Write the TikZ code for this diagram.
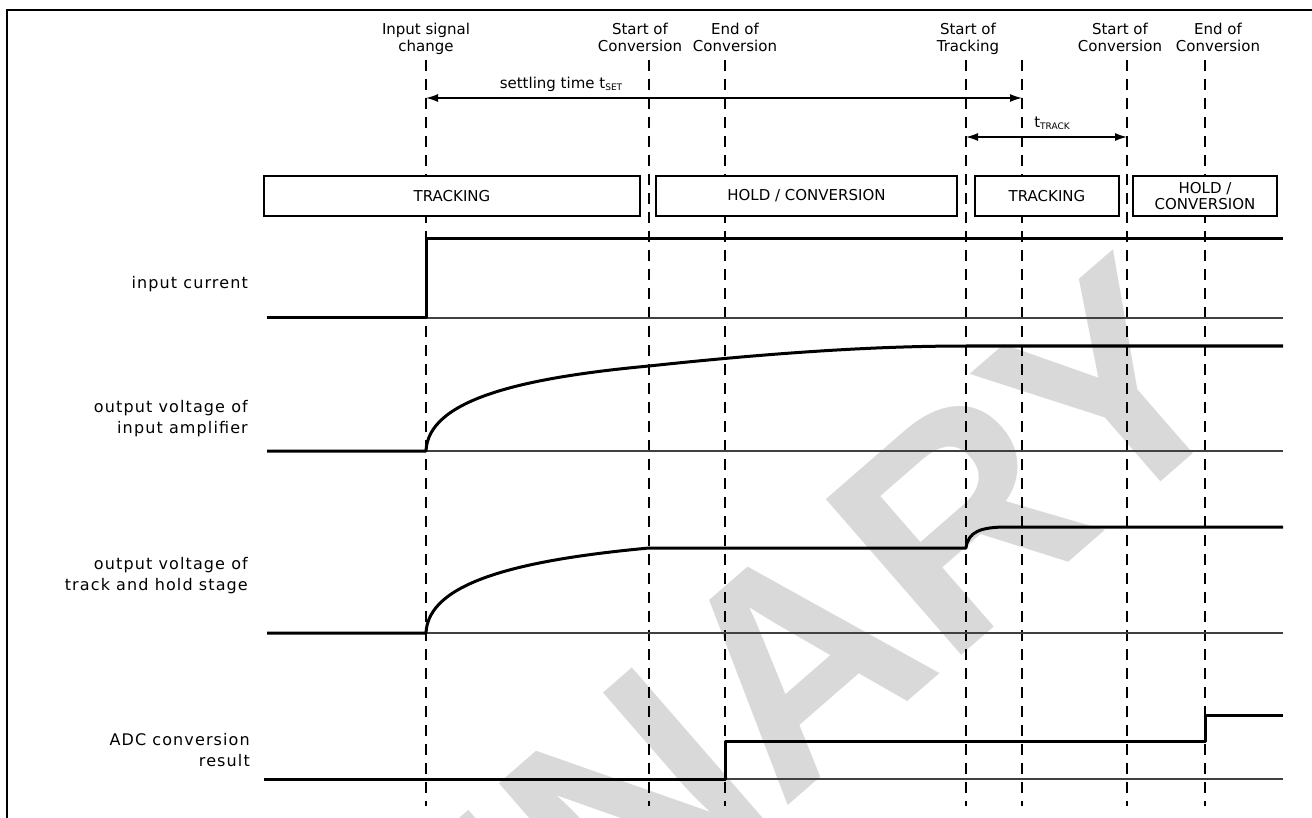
\documentclass[tikz,border=0pt]{standalone}
\usepackage{fontspec}
\setmainfont{DejaVu Sans}
\newfontfamily\lblfont[LetterSpace=7]{DejaVu Sans}
\newfontfamily\wmfont{Liberation Sans}
\usetikzlibrary{arrows.meta, positioning}

\newcommand{\sub}[1]{\raisebox{-2pt}{\fontsize{9}{9}\selectfont #1}}

\begin{document}
\begin{tikzpicture}[x=1pt, y=-1pt,
  event/.style={line width=1.7pt, dash pattern=on 11pt off 8pt},
  phase/.style={draw, fill=white, line width=1.3pt, minimum height=40pt, inner sep=0pt, align=center, font=\fontsize{15}{16}\selectfont},
  sig/.style={line width=3pt, line join=round},
  zero/.style={line width=1.4pt, black!75},
  dim/.style={{Latex[length=12pt,width=8pt]}-{Latex[length=12pt,width=8pt]}, line width=1.3pt},
  evlabel/.style={align=center, anchor=base, inner sep=0pt, font=\fontsize{15}{17}\selectfont},
  siglabel/.style={align=right, anchor=base east, inner sep=0pt, font=\lblfont\fontsize{16}{21}\selectfont}]

\useasboundingbox (0,0) rectangle (1312,818);

% watermark
\begin{scope}
  \clip (0,0) rectangle (1312,818);
  \node[text=black!15, font=\wmfont\bfseries\fontsize{300}{300}\selectfont, rotate=41, anchor=base east] (wm) at (1255,400) {PRELIMINARY};
\end{scope}

\draw[line width=2.7pt] (7,818) -- (7,10) -- (1312,10);

% events
\foreach \x/\n in {426/chg, 649/soca, 725/eoca, 966/sot, 1022/stl, 1127/socb, 1205/eocb} {
  \coordinate (\n-t) at (\x,60);
  \coordinate (\n-b) at (\x,806);
  \draw[event] (\n-t) -- (\n-b);
}

\node[evlabel] (lchg)  at (426,52)  {Input signal\\change};
\node[evlabel] (lsoca) at (640,52)  {Start of\\Conversion};
\node[evlabel] (leoca) at (735,52)  {End of\\Conversion};
\node[evlabel] (lsot)  at (968,52)  {Start of\\Tracking};
\node[evlabel] (lsocb) at (1120,52) {Start of\\Conversion};
\node[evlabel] (leocb) at (1218,52) {End of\\Conversion};

% timings
\coordinate (set-l) at (426,98);
\coordinate (set-r) at (1022,98);
\draw[dim] (set-l) -- (set-r);
\node[evlabel] (lset) at (561,89) {settling time t\sub{SET}};
\coordinate (trk-l) at (966,137);
\coordinate (trk-r) at (1127,137);
\draw[dim] (trk-l) -- (trk-r);
\node[evlabel] (ltrk) at (1052,128) {t\sub{TRACK}};

% phases
\node[phase, minimum width=376pt] (trka)  at (452,196)   {TRACKING};
\node[phase, minimum width=301pt] (holda) at (806.5,196) {HOLD / CONVERSION};
\node[phase, minimum width=144pt] (trkb)  at (1047,196)  {TRACKING};
\node[phase, minimum width=144pt] (holdb) at (1205,196)  {HOLD /\\CONVERSION};

% signals
\node[siglabel] (lin)  at (248,289) {input current};
\node[siglabel] (lamp) at (248,433) {output voltage of\\input amplifier};
\node[siglabel] (lth)  at (248,590) {output voltage of\\track and hold stage};
\node[siglabel] (ladc) at (250,766) {ADC conversion\\result};

\draw[zero] (426,318) -- (1283,318);
\draw[sig] (267,318) -- (426,318) -- (426,239) -- (1283,239);

\draw[zero] (426,451) -- (1283,451);
\draw[sig] (267,451) -- (426,451) .. controls (428,400) and (520,378) .. (649,366)
  .. controls (780,352) and (880,346) .. (966,346) -- (1283,346);

\draw[zero] (426,633) -- (1283,633);
\draw[sig] (267,633) -- (426,633) .. controls (428,582) and (520,560) .. (649,548) -- (966,548)
  .. controls (968,532) and (980,527) .. (1007,527) -- (1283,527);

\draw[zero] (725,779) -- (1283,779);
\draw[sig] (264,779) -- (725,779) -- (725,741) -- (1205,741) -- (1205,715) -- (1283,715);

\end{tikzpicture}
\end{document}
